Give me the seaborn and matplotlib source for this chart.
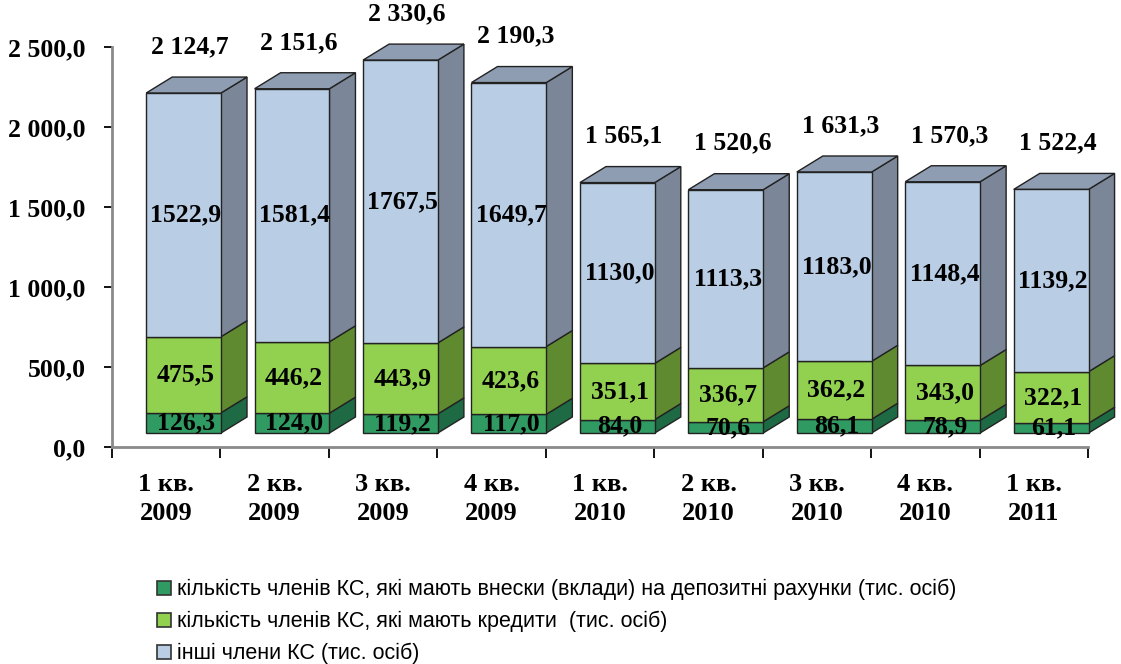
import numpy as np
import pandas as pd
import matplotlib
matplotlib.use("Agg")
import matplotlib.pyplot as plt
import seaborn as sns
from matplotlib.patches import Polygon, Patch

# ---------------- data ----------------
quarters = ["1 кв.\n2009", "2 кв.\n2009", "3 кв.\n2009", "4 кв.\n2009",
            "1 кв.\n2010", "2 кв.\n2010", "3 кв.\n2010", "4 кв.\n2010",
            "1 кв.\n2011"]
deposits = [126.3, 124.0, 119.2, 117.0, 84.0, 70.6, 86.1, 78.9, 61.1]
credits = [475.5, 446.2, 443.9, 423.6, 351.1, 336.7, 362.2, 343.0, 322.1]
others = [1522.9, 1581.4, 1767.5, 1649.7, 1130.0, 1113.3, 1183.0, 1148.4, 1139.2]
totals = [2124.7, 2151.6, 2330.6, 2190.3, 1565.1, 1520.6, 1631.3, 1570.3, 1522.4]
series_labels = [
    "кількість членів КС, які мають внески (вклади) на депозитні рахунки (тис. осіб)",
    "кількість членів КС, які мають кредити  (тис. осіб)",
    "інші члени КС (тис. осіб)",
]
yticks = [0, 500, 1000, 1500, 2000, 2500]

# ---------------- style ----------------
front_colors = ["#2f9a62", "#92d050", "#b9cde5"]
side_colors = ["#1e6a44", "#5f8a30", "#7b8798"]
top_color = "#8e9db2"
edge = "#222222"

sns.set_theme(style="white")
plt.rcParams["font.family"] = ["Liberation Serif", "DejaVu Serif"]
plt.rcParams["text.color"] = "black"
plt.rcParams["xtick.color"] = "black"
plt.rcParams["ytick.color"] = "black"
plt.rcParams["axes.labelcolor"] = "black"

fig = plt.figure(figsize=(11.21, 6.64), dpi=100)
ax = fig.add_axes([112 / 1121, (664 - 447) / 664, (1088 - 112) / 1121, 400 / 664])

n = len(quarters)
xpos = np.arange(n) + 0.16          # 3D front face shifted right
W = 0.69                            # front face width (category units)
floor = 87.5                        # front-face floor in 3D view
DX = 0.24                           # depth offset x (category units)
DY = 100.0                          # depth offset y (value units)

layers = [np.array(deposits), np.array(credits), np.array(others)]
bottoms = [np.zeros(n), np.array(deposits), np.array(deposits) + np.array(credits)]

df = pd.DataFrame({"x": xpos})
for k, (vals, bot) in enumerate(zip(layers, bottoms)):
    d = df.copy()
    d["h"] = vals
    sns.barplot(data=d, x="x", y="h", native_scale=True, width=W,
                bottom=floor + bot, color=front_colors[k], saturation=1,
                edgecolor=edge, linewidth=1.0, ax=ax, zorder=3, clip_on=False)

# side and top faces derived from the same data
for i in range(n):
    xl = xpos[i] - W / 2
    xr = xpos[i] + W / 2
    for k, (vals, bot) in enumerate(zip(layers, bottoms)):
        y0 = floor + bot[i]
        y1 = floor + bot[i] + vals[i]
        ax.add_patch(Polygon([(xr, y0), (xr + DX, y0 + DY), (xr + DX, y1 + DY), (xr, y1)],
                             closed=True, facecolor=side_colors[k], edgecolor=edge,
                             linewidth=1.0, zorder=2, clip_on=False))
    top = floor + totals[i]
    ax.add_patch(Polygon([(xl, top), (xl + DX, top + DY), (xr + DX, top + DY), (xr, top)],
                         closed=True, facecolor=top_color, edgecolor=edge,
                         linewidth=1.0, zorder=2, clip_on=False))

# labels
def fmt_sp(v):
    return f"{v:,.1f}".replace(",", " ").replace(".", ",")

def fmt(v):
    return f"{v:.1f}".replace(".", ",")

for i in range(n):
    for k, (vals, bot) in enumerate(zip(layers, bottoms)):
        yc = floor + bot[i] + vals[i] / 2
        ax.text(xpos[i] + 0.02, yc, fmt(vals[i]), ha="center", va="center",
                fontsize=18.5, fontweight="bold", color="black", zorder=5, clip_on=False)
    ax.text(xpos[i] + 0.06, floor + totals[i] + 290, fmt_sp(totals[i]), ha="center",
            va="center", fontsize=18.5, fontweight="bold", color="black", zorder=5,
            clip_on=False)

# axes
ax.set_xlim(-0.5, n - 0.5)
ax.set_ylim(0, 2500)
ax.set_yticks(yticks)
ax.set_yticklabels([fmt_sp(v) for v in yticks], fontsize=18.5, fontweight="bold")
ax.set_xticks(np.arange(n))
ax.set_xticklabels(quarters, fontsize=19, fontweight="bold", linespacing=1.3)
ax.set_xticks(np.arange(n + 1) - 0.5, minor=True)
ax.tick_params(axis="x", which="major", length=0, pad=19)
ax.tick_params(axis="x", which="minor", length=8, width=1.3, color="black", direction="out", bottom=True)
ax.tick_params(axis="y", length=6, width=1.3, color="black", direction="out", left=True, pad=13)
ax.set_xlabel("")
ax.set_ylabel("")
for s in ["top", "right"]:
    ax.spines[s].set_visible(False)
for s in ["left", "bottom"]:
    ax.spines[s].set_color("#8a8a8a")
    ax.spines[s].set_linewidth(2.0)
ax.grid(False)

handles = [Patch(facecolor=front_colors[k], edgecolor="#333333", linewidth=1.2)
           for k in range(3)]
leg = fig.legend(handles, series_labels, loc="upper left",
                 bbox_to_anchor=(157 / 1121, (664 - 579) / 664), frameon=False,
                 prop={"family": ["Liberation Sans", "DejaVu Sans"], "size": 15.5},
                 handlelength=0.65, handleheight=0.65, handletextpad=0.3,
                 labelspacing=0.5, borderpad=0, borderaxespad=0)
for t in leg.get_texts():
    t.set_color("black")

fig.savefig("out.png", dpi=100)
